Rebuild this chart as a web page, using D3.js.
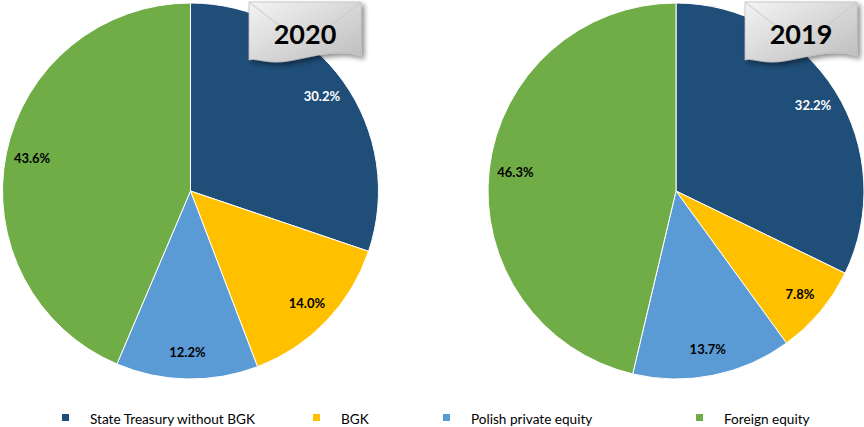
<!DOCTYPE html>
<html><head><meta charset="utf-8">
<script src="https://cdn.jsdelivr.net/npm/d3@7"></script>
<style>body{margin:0;background:#fff;}svg{display:block;}</style>
</head><body>
<svg id="c" width="864" height="427"></svg>
<script>
const categories = ["State Treasury without BGK", "BGK", "Polish private equity", "Foreign equity"];
const values2020 = [30.2, 14.0, 12.2, 43.6];
const values2019 = [32.2, 7.8, 13.7, 46.3];
const years = ["2020", "2019"];
const colors = ["#1F4E79", "#FFC000", "#5B9BD5", "#70AD47"];
const labelColors = ["#ffffff", "#000000", "#000000", "#000000"];

const svg = d3.select("#c");
const defs = svg.append("defs");
const g1 = defs.append("linearGradient").attr("id","boxg").attr("x1","0").attr("y1","0").attr("x2","1").attr("y2","1");
g1.append("stop").attr("offset","0").attr("stop-color","#f4f4f4");
g1.append("stop").attr("offset","0.5").attr("stop-color","#d8d8d8");
g1.append("stop").attr("offset","1").attr("stop-color","#bdbdbd");
const f = defs.append("filter").attr("id","sh").attr("x","-20%").attr("y","-20%").attr("width","150%").attr("height","150%");
f.append("feDropShadow").attr("dx",3).attr("dy",3).attr("stdDeviation",2.5).attr("flood-color","#000").attr("flood-opacity",0.45);

const R = 188;
const color = d3.scaleOrdinal().domain(categories).range(colors);
const pie = d3.pie().sort(null).value(d => d.v);
const arc = d3.arc().innerRadius(0).outerRadius(R);
const labelArc = d3.arc().innerRadius(R*0.86).outerRadius(R*0.86);

function drawPie(cx, cy, vals, year, boxX) {
  const data = categories.map((c,i)=>({c, v: vals[i], i}));
  const g = svg.append("g").attr("transform", `translate(${cx},${cy})`);
  const arcs = pie(data);
  g.selectAll("path").data(arcs).join("path")
    .attr("d", arc).attr("fill", d => color(d.data.c))
    .attr("stroke", "#fff").attr("stroke-width", 1);
  g.selectAll("text").data(arcs).join("text")
    .attr("transform", d => `translate(${labelArc.centroid(d)})`)
    .attr("text-anchor","middle").attr("dy","0.35em")
    .attr("font-family","Lato, 'Open Sans', sans-serif").attr("font-weight","bold")
    .attr("font-size", 13)
    .attr("fill", d => labelColors[d.data.i])
    .text(d => d.data.v.toFixed(1) + "%");
  // year box
  const bx = boxX, by = 2, bw = 112, bh = 58;
  const b = svg.append("g").attr("transform", `translate(${bx},${by})`);
  const p = `M0,0 L${bw},0 L${bw},${bh-4} C${bw*0.75},${bh-14} ${bw*0.45},${bh+2} ${bw*0.25},${bh+2} C${bw*0.12},${bh+2} ${bw*0.05},${bh-2} 0,${bh} Z`;
  b.append("path").attr("d", p).attr("fill","url(#boxg)").attr("filter","url(#sh)").attr("stroke","#bfbfbf").attr("stroke-width",0.8);
  b.append("path").attr("d", `M0,0 L${bw*0.3},${bh*0.45} M${bw},0 L${bw*0.7},${bh*0.45}`).attr("stroke","#c8c8c8").attr("stroke-width",1).attr("fill","none");
  b.append("text").attr("x", bw/2).attr("y", 42).attr("text-anchor","middle")
    .attr("font-family","Lato, 'Open Sans', sans-serif").attr("font-weight","bold").attr("font-size",27)
    .attr("fill","#000").text(year);
}

drawPie(190.5, 191, values2020, years[0], 249);
drawPie(676, 191, values2019, years[1], 745);

// legend
const legX = [62, 313, 443, 696];
const lg = svg.append("g");
categories.forEach((c,i)=>{
  lg.append("rect").attr("x", legX[i]).attr("y", 414).attr("width",7).attr("height",7).attr("fill", color(c));
  lg.append("text").attr("x", legX[i]+28).attr("y", 424)
    .attr("font-family","Lato, 'Open Sans', sans-serif").attr("font-size",13.6).attr("fill","#000").text(c);
});
</script>
</body></html>
